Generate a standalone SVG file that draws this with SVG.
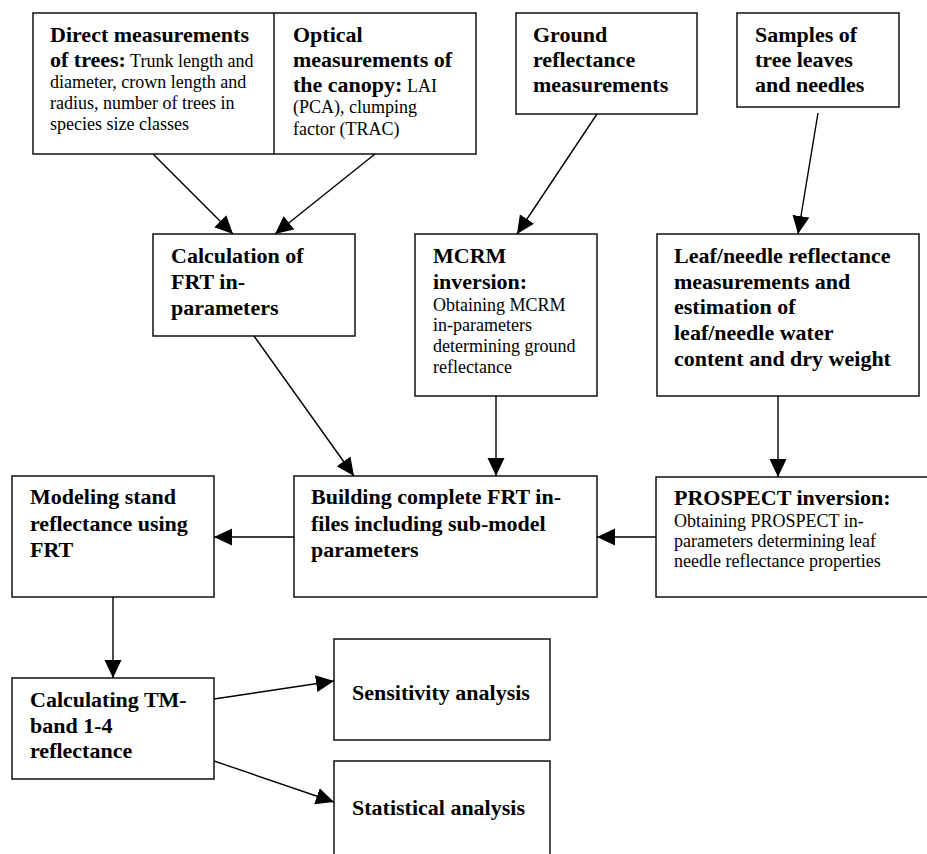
<svg xmlns="http://www.w3.org/2000/svg" width="927" height="854" viewBox="0 0 927 854">
<defs>
<marker id="ah" markerUnits="userSpaceOnUse" markerWidth="19" markerHeight="18" refX="18" refY="8.5" orient="auto">
<path d="M0,0 L18,8.5 L0,17 z" fill="#000"/>
</marker>
<style>
.box{fill:#fff;stroke:#111;stroke-width:1.5}
.c{stroke:#000;stroke-width:1.4;fill:none;marker-end:url(#ah)}
text{font-family:"Liberation Serif","Times New Roman",serif;fill:#000}
.b{font-weight:bold;font-size:22px}
.r{font-weight:normal;font-size:18px}
</style>
</defs>
<rect width="927" height="854" fill="#fff"/>
<g id="n-direct-optical">
<rect class="box" x="33" y="13" width="443" height="141"/>
<line x1="274" y1="13" x2="274" y2="154" stroke="#111" stroke-width="1.5"/>
</g>
<g id="n-direct">
<text x="50" y="42" class="b">Direct measurements</text>
<text x="50" y="67"><tspan class="b">of trees:</tspan><tspan class="r"> Trunk length and</tspan></text>
<text x="50" y="88" class="r">diameter, crown length and</text>
<text x="50" y="109" class="r">radius, number of trees in</text>
<text x="50" y="130" class="r">species size classes</text>
</g>
<g id="n-optical">
<text x="293" y="42" class="b">Optical</text>
<text x="293" y="67" class="b">measurements of</text>
<text x="293" y="92"><tspan class="b">the canopy:</tspan><tspan class="r"> LAI</tspan></text>
<text x="293" y="113" class="r">(PCA), clumping</text>
<text x="293" y="135" class="r">factor (TRAC)</text>
</g>
<g id="n-ground">
<rect class="box" x="516" y="13" width="181" height="101"/>
<text x="533" y="42" class="b">Ground</text>
<text x="533" y="67" class="b">reflectance</text>
<text x="533" y="92" class="b">measurements</text>
</g>
<g id="n-samples">
<rect class="box" x="737" y="13" width="162" height="94"/>
<text x="755" y="42" class="b">Samples of</text>
<text x="755" y="67" class="b">tree leaves</text>
<text x="755" y="92" class="b">and needles</text>
</g>
<g id="n-calc">
<rect class="box" x="153" y="234" width="202" height="102"/>
<text x="171" y="263" class="b">Calculation of</text>
<text x="171" y="289" class="b">FRT in-</text>
<text x="171" y="315" class="b">parameters</text>
</g>
<g id="n-mcrm">
<rect class="box" x="415" y="234" width="182" height="162"/>
<text x="433" y="263" class="b">MCRM</text>
<text x="433" y="289" class="b">inversion:</text>
<text x="433" y="311" class="r">Obtaining MCRM</text>
<text x="433" y="331" class="r">in-parameters</text>
<text x="433" y="352" class="r">determining ground</text>
<text x="433" y="373" class="r">reflectance</text>
</g>
<g id="n-leaf">
<rect class="box" x="657" y="234" width="262" height="162"/>
<text x="674" y="263" class="b">Leaf/needle reflectance</text>
<text x="674" y="289" class="b">measurements and</text>
<text x="674" y="314" class="b">estimation of</text>
<text x="674" y="340" class="b">leaf/needle water</text>
<text x="674" y="366" class="b">content and dry weight</text>
</g>
<g id="n-modeling">
<rect class="box" x="12" y="476" width="202" height="121"/>
<text x="30" y="504" class="b">Modeling stand</text>
<text x="30" y="531" class="b">reflectance using</text>
<text x="30" y="557" class="b">FRT</text>
</g>
<g id="n-building">
<rect class="box" x="294" y="476" width="303" height="121"/>
<text x="311" y="504" class="b">Building complete FRT in-</text>
<text x="311" y="531" class="b">files including sub-model</text>
<text x="311" y="557" class="b">parameters</text>
</g>
<g id="n-prospect">
<rect class="box" x="656" y="477" width="280" height="120"/>
<text x="674" y="505" class="b">PROSPECT inversion:</text>
<text x="674" y="527" class="r">Obtaining PROSPECT in-</text>
<text x="674" y="547" class="r">parameters determining leaf</text>
<text x="674" y="567" class="r">needle reflectance properties</text>
</g>
<g id="n-tm">
<rect class="box" x="12" y="678" width="202" height="101"/>
<text x="30" y="707" class="b">Calculating TM-</text>
<text x="30" y="733" class="b">band 1-4</text>
<text x="30" y="758" class="b">reflectance</text>
</g>
<g id="n-sensitivity">
<rect class="box" x="334" y="639" width="216" height="101"/>
<text x="352" y="700" class="b">Sensitivity analysis</text>
</g>
<g id="n-statistical">
<rect class="box" x="334" y="761" width="216" height="110"/>
<text x="352" y="815" class="b">Statistical analysis</text>
</g>
<g id="connectors">
<line class="c" x1="153" y1="154" x2="233" y2="234"/>
<line class="c" x1="375" y1="154" x2="275" y2="234"/>
<line class="c" x1="597" y1="114" x2="517" y2="234"/>
<line class="c" x1="818" y1="113" x2="798" y2="234"/>
<line class="c" x1="254" y1="336" x2="354" y2="476"/>
<line class="c" x1="496" y1="396" x2="496" y2="476"/>
<line class="c" x1="778" y1="396" x2="778" y2="477"/>
<line class="c" x1="294" y1="537" x2="214" y2="537"/>
<line class="c" x1="656" y1="537" x2="597" y2="537"/>
<line class="c" x1="113" y1="597" x2="113" y2="678"/>
<line class="c" x1="214" y1="699" x2="334" y2="681"/>
<line class="c" x1="214" y1="761" x2="334" y2="802"/>
</g>
</svg>
